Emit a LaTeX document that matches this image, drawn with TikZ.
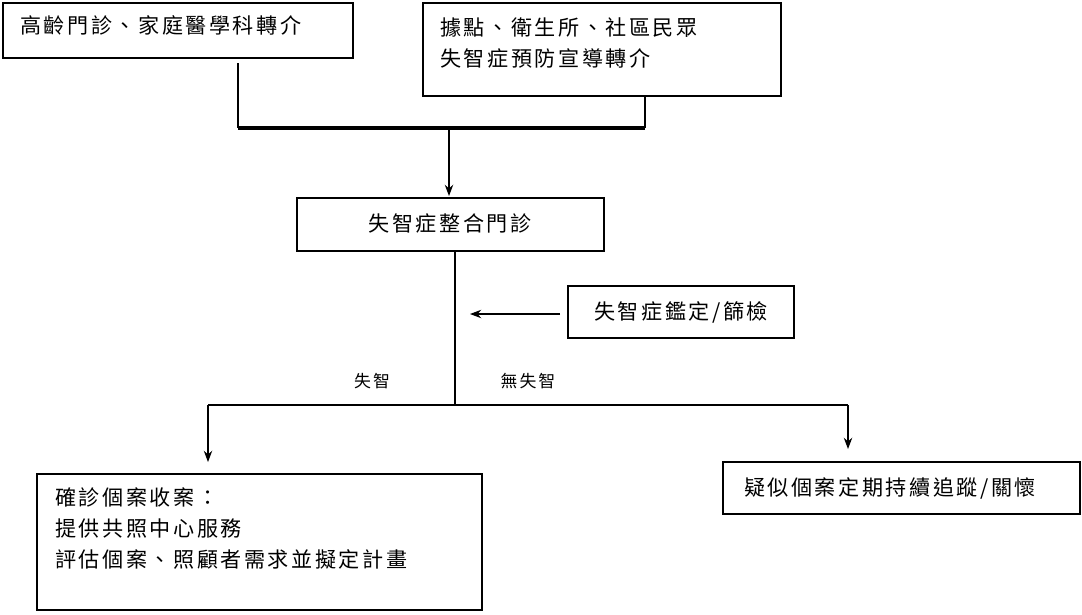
\documentclass[tikz,border=0pt]{standalone}
\usepackage{fontspec}
\newfontfamily\cjk[LetterSpace=12]{Noto Sans CJK TC}
\usetikzlibrary{arrows.meta}
\tikzset{
  box/.style={draw,thick},
  txt/.style={anchor=west,inner sep=0pt,font=\cjk\fontsize{15}{17}\selectfont},
  lbl/.style={inner sep=0pt,font=\cjk\fontsize{12}{14}\selectfont},
  arr/.style={-{Stealth[length=8pt,width=6pt]},thick}
}
\begin{document}
\begin{tikzpicture}[x=0.025cm,y=-0.025cm]
            \useasboundingbox (0,0) rectangle (1082,614);
            % boxes
            \draw[box] (3,3) rectangle (353,58);
            \node[txt] (a) at (20,25) {高齡門診、家庭醫學科轉介};
            \draw[box] (423,3) rectangle (781,96);
            \node[txt] (b1) at (440,28) {據點、衛生所、社區民眾};
            \node[txt] (b2) at (440,58) {失智症預防宣導轉介};
            \draw[box] (297,198) rectangle (604,251);
            \node[txt,anchor=center] (c) at (450,223) {失智症整合門診};
            \draw[box] (568,286) rectangle (794,338);
            \node[txt,anchor=center] (d) at (681,312) {失智症鑑定/篩檢};
            \draw[box] (37,474) rectangle (482,610);
            \node[txt] (e1) at (55,497) {確診個案收案：};
            \node[txt] (e2) at (55,529) {提供共照中心服務};
            \node[txt] (e3) at (55,559) {評估個案、照顧者需求並擬定計畫};
            \draw[box] (723,462) rectangle (1080,514);
            \node[txt,anchor=center] (f) at (890,488) {疑似個案定期持續追蹤/關懷};
            % labels
            \node[lbl] (l1) at (372,381) {失智};
            \node[lbl] (l2) at (528,381) {無失智};
            % connectors
            \coordinate (ja) at (238,63);
            \coordinate (jb) at (645,96);
            \draw[thick] (ja) -- (238,128);
            \draw[thick] (jb) -- (645,128);
            \draw[line width=2.5pt] (238,128) -- (645,128);
            \draw[arr] (449,128) -- (449,196);
            \draw[thick] (455,251) -- (455,405);
            \draw[arr] (560,314) -- (470,314);
            \draw[thick] (208,405) -- (848,405);
            \draw[arr] (208,405) -- (208,462);
            \draw[arr] (848,405) -- (848,449);
\end{tikzpicture}
\end{document}
